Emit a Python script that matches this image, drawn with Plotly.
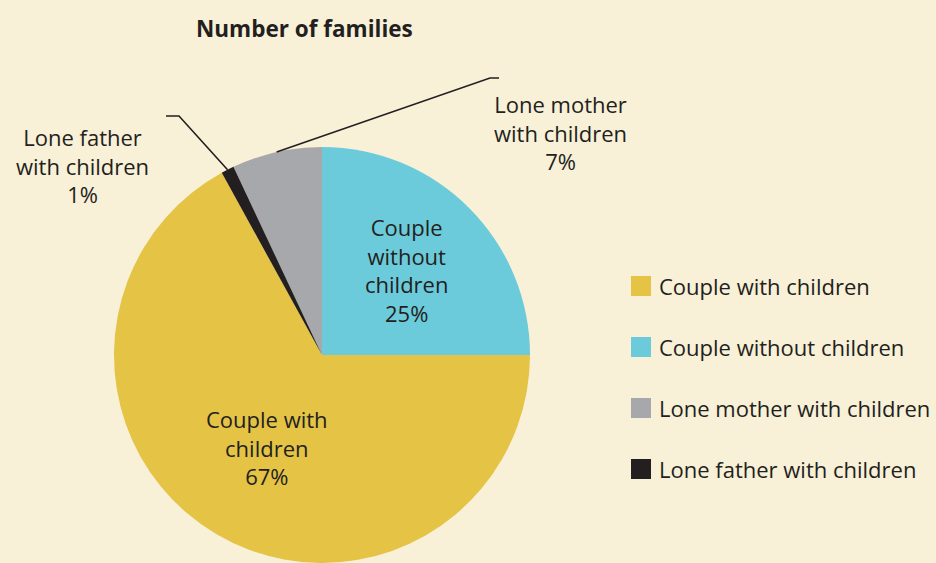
import math
import plotly.graph_objects as go

# ---- data ----
categories = ["Couple with children", "Couple without children",
              "Lone mother with children", "Lone father with children"]
shares = [67, 25, 7, 1]
slice_labels = ["Couple with<br>children", "Couple<br>without<br>children",
                "Lone mother<br>with children", "Lone father<br>with children"]
colors = ["#E4C345", "#6BCBDB", "#A7A8AB", "#231F20"]
title_text = "Number of families"

# ---- layout constants (pixels) ----
W, H = 936, 563
CX, CY, R = 322, 355, 208
BG = "#F8F0D7"
TXT = "#231F20"
FONT = "Open Sans"
FS = 22

def px(x):
    return x / W

def py(y):
    return 1 - y / H

total = sum(shares)
# counter-clockwise pie: the first slice ends at `rotation`; the second
# slice ("without") then runs back up to 12 o'clock
rotation = 360 * shares[1] / total

# mid angle of each slice (degrees, clockwise from 12 o'clock)
mids = []
acc = rotation + 360 * shares[0] / total
for v in shares:
    span = 360 * v / total
    mids.append(acc - span / 2)
    acc -= span

def polar(angle, r):
    a = math.radians(angle)
    return CX + r * math.sin(a), CY - r * math.cos(a)

fig = go.Figure()
fig.add_trace(go.Pie(
    labels=categories, values=shares, sort=False,
    direction="counterclockwise", rotation=rotation,
    marker=dict(colors=colors, line=dict(width=0)),
    textinfo="none", hoverinfo="label+percent",
    showlegend=False,
    domain=dict(x=[px(CX - R), px(CX + R)], y=[py(CY + R), py(CY - R)]),
))

annotations = []
shapes = []

# inside labels
inside_r = {0: 0.515, 1: 0.575}
for i, rf in inside_r.items():
    x, y = polar(mids[i], R * rf)
    pct = round(100 * shares[i] / total)
    annotations.append(dict(
        x=px(x), y=py(y), xref="paper", yref="paper",
        text=f"{slice_labels[i]}<br>{pct}%", showarrow=False,
        xanchor="center", yanchor="middle", align="center",
        font=dict(family=FONT, size=FS, color=TXT)))

# outside labels with leader lines
outside = {
    2: dict(label=(560, 133), elbow=(490, 78), end=(499, 78)),
    3: dict(label=(82, 165), elbow=(179, 116), end=(166, 116)),
}
for i, o in outside.items():
    pct = round(100 * shares[i] / total)
    annotations.append(dict(
        x=px(o["label"][0]), y=py(o["label"][1]), xref="paper", yref="paper",
        text=f"{slice_labels[i]}<br>{pct}%", showarrow=False,
        xanchor="center", yanchor="middle", align="center",
        font=dict(family=FONT, size=FS, color=TXT)))
    sx, sy = polar(mids[i], R)
    ex, ey = o["elbow"]
    tx, ty = o["end"]
    shapes.append(dict(type="path", xref="paper", yref="paper",
                       path=f"M {px(sx)},{py(sy)} L {px(ex)},{py(ey)} L {px(tx)},{py(ty)}",
                       line=dict(color=TXT, width=1.6)))

# legend (manual)
leg_y0, leg_dy = 286, 61
for k, (cat, col) in enumerate(zip(categories, colors)):
    yc = leg_y0 + k * leg_dy
    shapes.append(dict(type="rect", xref="paper", yref="paper",
                       x0=px(631), x1=px(651), y0=py(yc + 10), y1=py(yc - 10),
                       fillcolor=col, line=dict(width=0)))
    annotations.append(dict(
        x=px(657), y=py(yc), xref="paper", yref="paper", text=cat,
        showarrow=False, xanchor="left", yanchor="middle",
        font=dict(family=FONT, size=FS, color=TXT)))

# title
annotations.append(dict(
    x=px(304), y=py(28), xref="paper", yref="paper",
    text=f"<b>{title_text}</b>", showarrow=False,
    xanchor="center", yanchor="middle",
    font=dict(family=FONT, size=22.5, color=TXT)))

fig.update_layout(
    width=W, height=H,
    margin=dict(l=0, r=0, t=0, b=0),
    paper_bgcolor=BG, plot_bgcolor=BG,
    annotations=annotations, shapes=shapes,
    showlegend=False,
)

fig.write_html("out.html",
               config={"displayModeBar": False},
               post_script="document.body.style.margin='0';document.body.style.overflow='hidden';")
